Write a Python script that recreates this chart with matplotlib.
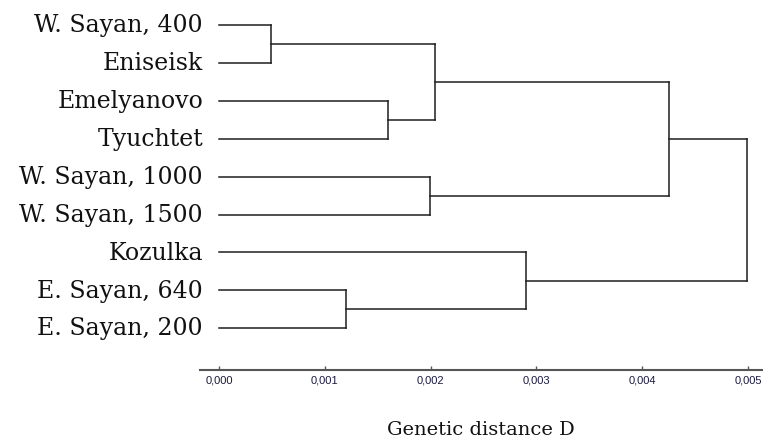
import matplotlib
matplotlib.use("Agg")
import matplotlib.pyplot as plt

leaves = ["W. Sayan, 400", "Eniseisk", "Emelyanovo", "Tyuchtet",
          "W. Sayan, 1000", "W. Sayan, 1500", "Kozulka",
          "E. Sayan, 640", "E. Sayan, 200"]
# merges: (node a, node b, distance); new nodes numbered after the leaves
merge_a = [0, 2, 9, 4, 11, 7, 6, 13]
merge_b = [1, 3, 10, 5, 12, 8, 14, 15]
merge_h = [0.00049, 0.0016, 0.00204, 0.00199, 0.00425, 0.0012, 0.0029, 0.00499]
ticks = [0.000, 0.001, 0.002, 0.003, 0.004, 0.005]
tick_labels = ["0,000", "0,001", "0,002", "0,003", "0,004", "0,005"]

fig = plt.figure(figsize=(7.63, 4.41), dpi=100)
ax = fig.add_axes([200/763, 1 - 370/441, 563/763, 370/441])
ax.set_xlim(-0.00018, 0.005142)
ax.set_ylim(9.103, -0.66)

lc = "#1e1e1e"
ypos = {i: float(i) for i in range(len(leaves))}
xpos = {i: 0.0 for i in range(len(leaves))}
for k, (a, b, h) in enumerate(zip(merge_a, merge_b, merge_h)):
    n = len(leaves) + k
    ax.plot([xpos[a], h], [ypos[a], ypos[a]], color=lc, lw=1.1, solid_capstyle="projecting")
    ax.plot([xpos[b], h], [ypos[b], ypos[b]], color=lc, lw=1.1, solid_capstyle="projecting")
    ax.plot([h, h], [ypos[a], ypos[b]], color=lc, lw=1.1, solid_capstyle="projecting")
    ypos[n] = (ypos[a] + ypos[b]) / 2
    xpos[n] = h

# baseline sits a bit below the branch line so the caps are centred on it
for i, name in enumerate(leaves):
    ax.text(-0.000151, i + 0.19, name, ha="right", va="baseline",
            fontsize=17, family="DejaVu Serif", color="#111111")

for s in ["top", "right", "left"]:
    ax.spines[s].set_visible(False)
ax.spines["bottom"].set_color("#555555")
ax.spines["bottom"].set_linewidth(1.5)
ax.set_yticks([])
ax.set_xticks(ticks)
ax.set_xticklabels(tick_labels, fontsize=8, family="Liberation Sans", color="#1a1a40")
ax.tick_params(axis="x", direction="in", length=3, width=1, color="#555555", pad=4)

fig.text(481/763, 1 - 430/441, "Genetic distance D", ha="center", va="center",
         fontsize=14, family="DejaVu Serif", color="#111111")

fig.savefig("out.png", dpi=100)
